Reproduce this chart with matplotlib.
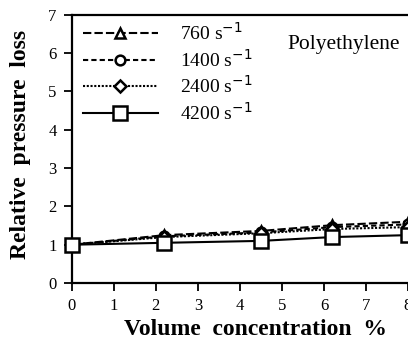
import numpy as np
import matplotlib.pyplot as plt

plt.rcParams['font.family'] = ['Liberation Serif', 'DejaVu Serif']

# volume concentration (%) and relative pressure loss for each shear rate
conc = [0, 2.2, 4.5, 6.2, 8]
loss_760 = [1.0, 1.25, 1.36, 1.51, 1.60]
loss_1400 = [1.0, 1.22, 1.32, 1.46, 1.53]
loss_2400 = [1.0, 1.20, 1.30, 1.41, 1.46]
loss_4200 = [1.0, 1.05, 1.10, 1.20, 1.25]

labels = ['760 s$^{-1}$', '1400 s$^{-1}$', '2400 s$^{-1}$', '4200 s$^{-1}$']
series = [loss_760, loss_1400, loss_2400, loss_4200]
styles = [(0, (4, 1.5)), (0, (2.5, 1.5)), (0, (1, 0.8)), '-']
markers = ['^', 'o', 'D', 's']
msizes = [7, 7, 6, 9.5]

fig = plt.figure(figsize=(4.08, 3.46), dpi=100)
ax = fig.add_axes([0.176, 0.182, 0.824, 0.775])

for y, lab, ls, mk, ms in zip(series, labels, styles, markers, msizes):
    ax.plot(conc, y, color='black', linestyle=ls, linewidth=1.5,
            marker=mk, markersize=ms, markerfacecolor='white',
            markeredgecolor='black', markeredgewidth=1.8, label=lab,
            clip_on=False, zorder=3 if mk == 's' else 2)

ax.set_xlim(0, 8)
ax.set_ylim(0, 7)
ax.set_xticks(range(0, 9))
ax.set_yticks(range(0, 8))
ax.tick_params(direction='out', length=6, width=1.3, labelsize=12, pad=5)
for side in ['left', 'bottom', 'top']:
    ax.spines[side].set_linewidth(1.6)
ax.spines['right'].set_visible(False)

ax.set_xlabel('Volume  concentration  %', fontsize=17, fontweight='bold')
ax.set_ylabel('Relative  pressure  loss', fontsize=17, fontweight='bold')
ax.xaxis.set_label_coords(0.545, -0.135)
ax.yaxis.set_label_coords(-0.12, 0.515)

ax.text(0.64, 0.89, 'Polyethylene', transform=ax.transAxes, fontsize=15.5, va='center')

leg = ax.legend(loc='upper left', bbox_to_anchor=(0.0, 1.014), frameon=False,
                fontsize=14, handlelength=3.9, handletextpad=1.1,
                labelspacing=0.25, borderaxespad=0.1, borderpad=0.45)

fig.savefig('out.png', dpi=100)
